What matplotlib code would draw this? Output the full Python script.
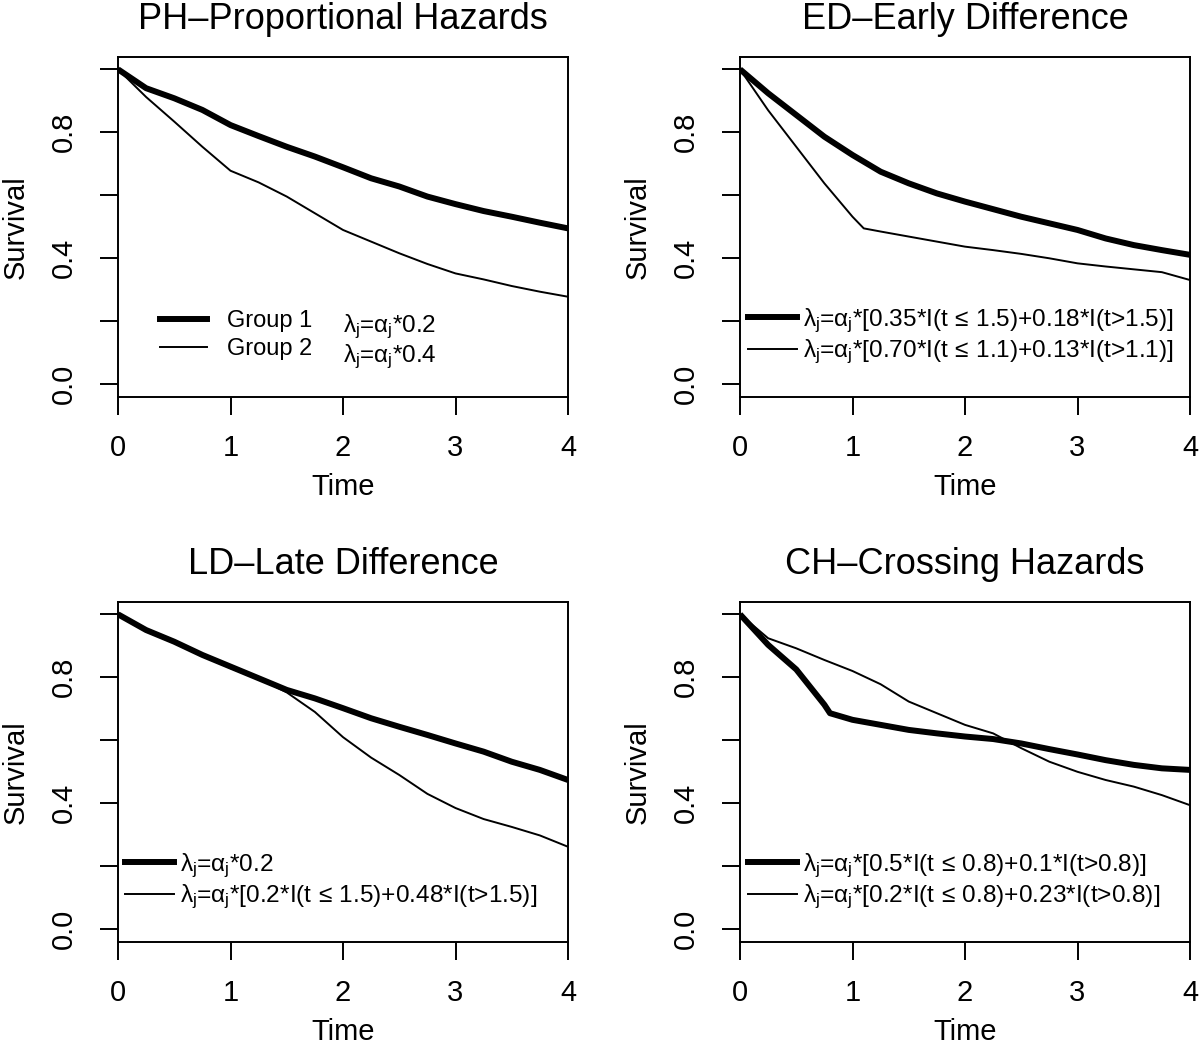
import numpy as np
import matplotlib.pyplot as plt
from matplotlib.lines import Line2D

plt.rcParams['font.family'] = ['Liberation Sans', 'DejaVu Sans']
plt.rcParams['mathtext.fontset'] = 'custom'
plt.rcParams['mathtext.rm'] = 'Liberation Sans'
plt.rcParams['mathtext.it'] = 'Liberation Sans'
plt.rcParams['mathtext.bf'] = 'Liberation Sans:bold'

# survival curves
t_q = [0, 0.25, 0.5, 0.75, 1.0, 1.25, 1.5, 1.75, 2.0, 2.25, 2.5, 2.75, 3.0, 3.25, 3.5, 3.75, 4.0]

ph_g1 = [1.0, 0.94, 0.908, 0.871, 0.823, 0.788, 0.754, 0.723, 0.689, 0.654, 0.628, 0.596, 0.572, 0.550, 0.532, 0.513, 0.495]
ph_g2 = [1.0, 0.912, 0.834, 0.754, 0.678, 0.641, 0.596, 0.543, 0.490, 0.453, 0.416, 0.382, 0.352, 0.333, 0.312, 0.294, 0.278]

ed_g1 = [1.0, 0.924, 0.855, 0.786, 0.728, 0.675, 0.638, 0.606, 0.580, 0.556, 0.532, 0.511, 0.490, 0.463, 0.442, 0.426, 0.411]
ed_t2 = [0, 0.25, 0.5, 0.75, 1.0, 1.1, 1.25, 1.5, 1.75, 2.0, 2.25, 2.5, 2.75, 3.0, 3.25, 3.5, 3.75, 4.0]
ed_g2 = [1.0, 0.870, 0.754, 0.638, 0.532, 0.495, 0.485, 0.469, 0.453, 0.437, 0.426, 0.414, 0.400, 0.384, 0.374, 0.365, 0.356, 0.331]

ld_g1 = [1.0, 0.950, 0.913, 0.871, 0.834, 0.797, 0.760, 0.733, 0.702, 0.670, 0.643, 0.617, 0.590, 0.564, 0.532, 0.506, 0.474]
ld_g2 = [1.0, 0.950, 0.913, 0.871, 0.829, 0.797, 0.752, 0.690, 0.610, 0.545, 0.490, 0.430, 0.385, 0.350, 0.325, 0.298, 0.262]

ch_t1 = [0, 0.25, 0.5, 0.75, 0.8, 1.0, 1.25, 1.5, 1.75, 2.0, 2.25, 2.5, 2.75, 3.0, 3.25, 3.5, 3.75, 4.0]
ch_g1 = [1.0, 0.903, 0.825, 0.713, 0.686, 0.665, 0.649, 0.633, 0.622, 0.612, 0.604, 0.590, 0.572, 0.555, 0.537, 0.522, 0.511, 0.506]
ch_g2 = [1.0, 0.924, 0.892, 0.855, 0.820, 0.778, 0.723, 0.686, 0.649, 0.622, 0.575, 0.532, 0.500, 0.474, 0.453, 0.426, 0.394]

titles = ['PH\u2013Proportional Hazards', 'ED\u2013Early Difference',
          'LD\u2013Late Difference', 'CH\u2013Crossing Hazards']

ph_lam = [r'$\lambda_j$=$\alpha_j$*0.2', r'$\lambda_j$=$\alpha_j$*0.4']
ed_lab = [r'$\lambda_j$=$\alpha_j$*[0.35*I(t$\,\leq\,$1.5)+0.18*I(t>1.5)]',
          r'$\lambda_j$=$\alpha_j$*[0.70*I(t$\,\leq\,$1.1)+0.13*I(t>1.1)]']
ld_lab = [r'$\lambda_j$=$\alpha_j$*0.2',
          r'$\lambda_j$=$\alpha_j$*[0.2*I(t$\,\leq\,$1.5)+0.48*I(t>1.5)]']
ch_lab = [r'$\lambda_j$=$\alpha_j$*[0.5*I(t$\,\leq\,$0.8)+0.1*I(t>0.8)]',
          r'$\lambda_j$=$\alpha_j$*[0.2*I(t$\,\leq\,$0.8)+0.23*I(t>0.8)]']

W, H = 1200, 1051
fig = plt.figure(figsize=(W / 100, H / 100), dpi=100)

boxes = [(118, 56.7), (740, 56.7), (118, 601.7), (740, 601.7)]
bw, bh = 450, 340.2


def setup(ax, title):
    ax.set_xlim(0, 4)
    ax.set_ylim(-0.04, 1.04)
    ax.set_xticks([0, 1, 2, 3, 4])
    ax.set_yticks([0, 0.2, 0.4, 0.6, 0.8, 1.0])
    ax.set_yticklabels(['0.0', '', '0.4', '', '0.8', ''])
    ax.tick_params(direction='out', length=13, width=1.4, labelsize=21, pad=14)
    ax.tick_params(axis='y', labelrotation=90, pad=16)
    for lab in ax.get_yticklabels():
        lab.set_va('center')
    for s in ax.spines.values():
        s.set_linewidth(1.4)
    ax.set_title(title, fontsize=26, pad=20)
    ax.set_xlabel('Time', fontsize=21)
    ax.set_ylabel('Survival', fontsize=21)
    ax.xaxis.set_label_coords(0.5, -0.225)
    ax.yaxis.set_label_coords(-0.197, 0.5)


axs = []
for (x0, y0) in boxes:
    ax = fig.add_axes([x0 / W, 1 - (y0 + bh) / H, bw / W, bh / H])
    axs.append(ax)

curves = [(t_q, ph_g1, t_q, ph_g2), (t_q, ed_g1, ed_t2, ed_g2),
          (t_q, ld_g1, t_q, ld_g2), (ch_t1, ch_g1, t_q, ch_g2)]

for ax, title, (ta, sa, tb, sb) in zip(axs, titles, curves):
    setup(ax, title)
    ax.plot(ta, sa, color='black', lw=4.3, solid_joinstyle='round', solid_capstyle='butt')
    ax.plot(tb, sb, color='black', lw=1.4)

handles = [Line2D([], [], color='black', lw=4.3), Line2D([], [], color='black', lw=1.4)]
leg_kw = dict(frameon=False, handlelength=2.0, borderpad=0,
              borderaxespad=0, loc='center left')

axs[0].legend(handles, ['Group 1', 'Group 2'], bbox_to_anchor=(0.093, 0.181),
              handletextpad=0.85, fontsize=17, labelspacing=0.25, **leg_kw)
axs[0].text(0.5, 0.205, ph_lam[0], transform=axs[0].transAxes, fontsize=17.5, va='center')
axs[0].text(0.5, 0.118, ph_lam[1], transform=axs[0].transAxes, fontsize=17.5, va='center')

lab_kw = dict(handletextpad=0.25, fontsize=17.6, labelspacing=0.12)
axs[1].legend(handles, ed_lab, bbox_to_anchor=(0.018, 0.178), **lab_kw, **leg_kw)
axs[2].legend(handles, ld_lab, bbox_to_anchor=(0.0156, 0.178), **lab_kw, **leg_kw)
axs[3].legend(handles, ch_lab, bbox_to_anchor=(0.018, 0.178), **lab_kw, **leg_kw)

fig.savefig('out.png', dpi=100)
